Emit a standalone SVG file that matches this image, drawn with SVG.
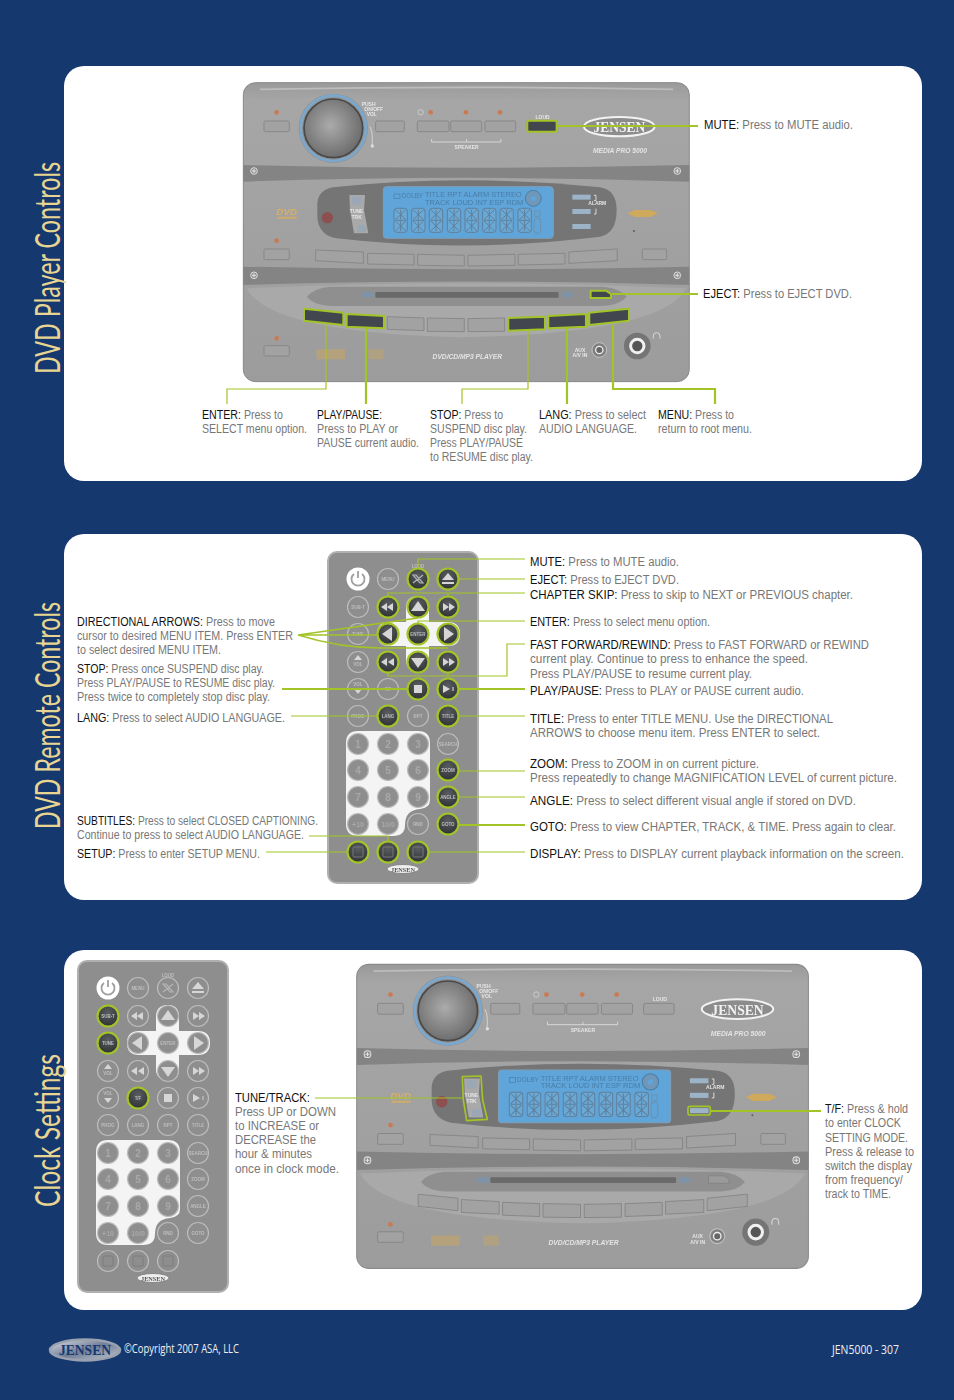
<svg xmlns="http://www.w3.org/2000/svg" xmlns:xlink="http://www.w3.org/1999/xlink" width="954" height="1400" viewBox="0 0 954 1400">
<style>
.t{font-family:"Liberation Sans",Arial,sans-serif;font-size:12px;fill:#777}
.k{fill:#111}
.title{font-family:Lato,"Open Sans",sans-serif;font-size:35px;fill:#e8d592}
.foot{font-family:"Open Sans","Liberation Sans",sans-serif;font-size:13px;fill:#f0f0f0}
.pn{fill:#fff}
.c1{fill:none;stroke:#a3c427;stroke-width:1.2}
.c2{fill:none;stroke:#a3c427;stroke-width:2.2}
.hb{fill:url(#hbtn);stroke:#a3c427;stroke-width:2.2}
.hs{fill:#43474f;stroke:#a3c427;stroke-width:6;stroke-linejoin:round}
.rb{fill:#8e8e8e;stroke:#bcbcbc;stroke-width:1.2}
.ri{fill:#d6d6d6}
.rt{font-family:"Liberation Sans",sans-serif;font-size:4.500px;fill:#bdbdbd;text-anchor:middle;font-weight:bold}
.rn{font-family:"Liberation Sans",sans-serif;font-size:10px;fill:#a8a8a8;text-anchor:middle;font-weight:bold}
.sb{fill:#a2a2a2;stroke:#838383;stroke-width:2.500}
.led{fill:#c97a52}
.st{font-family:"Liberation Sans",sans-serif;font-weight:bold;font-size:15px;fill:#e6e6e6}
.sti{font-family:"Liberation Sans",sans-serif;font-weight:bold;font-style:italic;font-size:20px;fill:#e4e4e4;text-anchor:middle}
.lcd{font-family:"Liberation Sans",sans-serif;font-size:19px;fill:#4a7da6}
.scr{fill:#8f8f8f;stroke:#ddd;stroke-width:3}
</style>
<defs>
<filter id="soft" x="-2%" y="-2%" width="104%" height="104%"><feGaussianBlur stdDeviation="1.3"/></filter>
<filter id="soft2" x="-2%" y="-2%" width="104%" height="104%"><feGaussianBlur stdDeviation="0.4"/></filter>
<radialGradient id="hbtn" cx="0.5" cy="0.35" r="0.7"><stop offset="0" stop-color="#5a5d61"/><stop offset="1" stop-color="#2c2e30"/></radialGradient>
<radialGradient id="knob" cx="0.45" cy="0.45" r="0.62"><stop offset="0" stop-color="#ababab"/><stop offset="1" stop-color="#666"/></radialGradient>
<linearGradient id="top" x1="0" y1="0" x2="0" y2="1"><stop offset="0" stop-color="#9a9a9a"/><stop offset="0.06" stop-color="#a6a6a6"/><stop offset="1" stop-color="#9c9c9c"/></linearGradient>
<linearGradient id="logo" x1="0" y1="0" x2="1" y2="1"><stop offset="0" stop-color="#dfe3ea"/><stop offset="0.5" stop-color="#6f7d96"/><stop offset="1" stop-color="#c8ccd4"/></linearGradient>
<g id="seg">
<rect x="0" y="0" width="40" height="72" rx="8" fill="#6aa9d6" stroke="#5f7f9b" stroke-width="3"/>
<path d="M4 4L36 34M36 4L4 34M20 4V34M4 38L36 68M36 38L4 68M20 38V68M4 36H36" stroke="#5f7f9b" stroke-width="3" fill="none"/>
</g>
<g id="screw"><circle r="10" class="scr"/><path d="M-6 0H6M0-6V6" stroke="#e4e4e4" stroke-width="3"/></g>
<g id="stereo" filter="url(#soft)">
<rect x="40" y="38" width="1338" height="897" rx="36" fill="url(#top)" stroke="#8a8a8a" stroke-width="3"/>
<path d="M90 58Q700 46 1330 58" stroke="#bcbcbc" stroke-width="5" fill="none"/>
<path d="M40 285Q700 302 1378 285V335Q700 312 40 335Z" fill="#848484"/>
<path d="M40 590Q700 606 1378 590V645Q700 624 40 645Z" fill="#848484"/>
<path d="M50 655Q700 625 1368 655Q1300 790 700 802Q120 790 50 655Z" fill="#a9a9a9"/>
<circle cx="140" cy="127" r="7" class="led"/><rect x="102" y="153" width="76" height="32" rx="4" class="sb"/>
<circle cx="310" cy="175" r="104" fill="#929292"/>
<circle cx="310" cy="175" r="98" fill="none" stroke="#7aa8ce" stroke-width="8"/>
<circle cx="310" cy="175" r="88" fill="url(#knob)" stroke="#484848" stroke-width="5"/>
<text class="st" x="395" y="108">PUSH</text><text class="st" x="403" y="123">ON/OFF</text><text class="st" x="410" y="138">VOL</text>
<rect x="437" y="153" width="86" height="32" rx="4" class="sb"/>
<circle cx="572" cy="127" r="8" fill="none" stroke="#ddd" stroke-width="2"/>
<circle cx="602" cy="127" r="7" class="led"/><circle cx="708" cy="127" r="7" class="led"/><circle cx="810" cy="127" r="7" class="led"/>
<rect x="562" y="153" width="95" height="32" rx="4" class="sb"/><rect x="662" y="153" width="93" height="32" rx="4" class="sb"/><rect x="765" y="153" width="92" height="32" rx="4" class="sb"/>
<path d="M605 207V216H813V207M710 207V216" stroke="#e0e0e0" stroke-width="2.500" fill="none"/>
<text class="st" x="710" y="238" text-anchor="middle">SPEAKER</text>
<text class="st" x="938" y="147" text-anchor="middle">LOUD</text>
<rect x="890" y="153" width="90" height="32" rx="4" class="sb"/>
<path d="M420 170Q430 190 426 225" stroke="#ddd" stroke-width="2.500" fill="none"/><circle cx="427" cy="228" r="5" fill="#ddd"/>
<ellipse cx="1168" cy="170" rx="106" ry="29" fill="#8c8c8c" stroke="#f2f2f2" stroke-width="6"/>
<text x="1168" y="187" text-anchor="middle" font-family="Liberation Serif,serif" font-weight="bold" font-size="46" fill="#f2f2f2" textLength="155" lengthAdjust="spacingAndGlyphs">JENSEN</text>
<text class="sti" x="1170" y="248">MEDIA PRO 5000</text>
<path d="M262 400Q265 360 310 352Q700 310 1110 352Q1160 360 1160 420Q1160 490 1110 500Q700 550 320 505Q265 495 262 440Z" fill="#747474"/>
<rect x="460" y="350" width="510" height="155" rx="10" fill="#5ea5da" stroke="#7f9fb8" stroke-width="3"/>
<text class="lcd" x="585" y="382" textLength="290" lengthAdjust="spacingAndGlyphs">TITLE RPT ALARM STEREO</text><text class="lcd" x="585" y="404" textLength="295" lengthAdjust="spacingAndGlyphs">TRACK LOUD INT ESP RDM</text>
<rect x="492" y="372" width="18" height="14" fill="none" stroke="#4a7da6" stroke-width="2"/><text class="lcd" x="515" y="384" font-size="12">DOLBY</text>
<circle cx="910" cy="385" r="24" fill="#6f97b8" stroke="#4a7da6" stroke-width="3"/><circle cx="910" cy="385" r="8" fill="#5ea5da"/>
<use xlink:href="#seg" x="492" y="415"/><use xlink:href="#seg" x="545" y="415"/><use xlink:href="#seg" x="598" y="415"/><use xlink:href="#seg" x="652" y="415"/><use xlink:href="#seg" x="705" y="415"/><use xlink:href="#seg" x="758" y="415"/><use xlink:href="#seg" x="810" y="415"/><use xlink:href="#seg" x="864" y="415"/>
<rect x="914" y="423" width="16" height="16" fill="none" stroke="#6f8fa8" stroke-width="2.500"/><rect x="912" y="445" width="20" height="45" rx="8" fill="none" stroke="#6f8fa8" stroke-width="3"/>
<path d="M358 375H405L402 420L415 490H372L360 420Z" fill="#a9a9a9"/><rect x="366" y="380" width="28" height="24" fill="#9aa7b4"/><rect x="382" y="466" width="26" height="20" fill="#9aa7b4"/>
<text class="st" x="380" y="430" text-anchor="middle">TUNE</text><text class="st" x="380" y="447" text-anchor="middle">TRK</text>
<circle cx="292" cy="443" r="17" fill="#8d4f4f"/>
<rect x="1027" y="374" width="55" height="15" fill="#9db3c8"/><rect x="1027" y="417" width="55" height="15" fill="#9db3c8"/><rect x="1027" y="462" width="55" height="15" fill="#9db3c8"/>
<path d="M1092 376h6v16h-6M1092 432h6v-16" stroke="#eee" stroke-width="2.500" fill="none"/><text class="st" x="1102" y="406" text-anchor="middle" font-size="12">ALARM</text>
<text x="170" y="436" text-anchor="middle" font-family="Liberation Sans,sans-serif" font-weight="bold" font-style="italic" font-size="28" fill="#d9b064" textLength="62" lengthAdjust="spacingAndGlyphs">DVD</text><rect x="143" y="440" width="57" height="7" fill="#c9aa72"/>
<path d="M1192 430L1215 420H1262L1284 430L1262 441H1215Z" fill="#cfa95c"/><circle cx="1212" cy="483" r="3" fill="#5c5c5c"/>
<circle cx="140" cy="512" r="7" class="led"/><rect x="102" y="537" width="76" height="32" rx="4" class="sb"/><rect x="1237" y="537" width="73" height="32" rx="4" class="sb"/>
<path d="M257 540L400 546V580L257 572ZM413 550L552 553V585L413 582ZM563 553L703 556V588L563 586ZM714 556L855 553V586L714 588ZM865 553L1005 550V582L865 585ZM1017 546L1162 537V572L1017 580Z" class="sb"/>
<use xlink:href="#screw" x="72" y="303"/><use xlink:href="#screw" x="1342" y="303"/><use xlink:href="#screw" x="72" y="616"/><use xlink:href="#screw" x="1342" y="616"/>
<path d="M230 680Q250 655 300 650H1120Q1170 655 1190 680Q1170 705 1120 708H300Q250 705 230 680Z" fill="#8f8f8f"/>
<rect x="436" y="666" width="550" height="17" rx="3" fill="#6a6a6a"/><ellipse cx="414" cy="674" rx="20" ry="9" fill="#7e93a8"/><ellipse cx="1012" cy="674" rx="18" ry="9" fill="#7e93a8"/>
<path d="M1082 662H1128L1143 672V684H1082Z" fill="#9a9a9a" stroke="#7d7d7d" stroke-width="2"/>
<path d="M222 716L340 728V765L222 752ZM350 732L462 738V775L350 770ZM472 740L582 744V782L472 778ZM592 744L703 746V785L592 784ZM714 746L824 744V784L714 785ZM835 744L945 740V778L835 782ZM955 738L1068 732V770L955 775ZM1078 728L1197 716V752L1078 765Z" class="sb"/>
<circle cx="140" cy="805" r="7" class="led"/><rect x="102" y="827" width="76" height="31" rx="4" class="sb"/>
<rect x="260" y="838" width="85" height="30" fill="#c4a568" opacity=".6"/><rect x="415" y="838" width="46" height="30" fill="#c4a568" opacity=".5"/>
<text class="sti" x="712" y="866">DVD/CD/MP3 PLAYER</text>
<text class="st" x="1050" y="845" text-anchor="middle">AUX</text><text class="st" x="1050" y="862" text-anchor="middle">A/V IN</text>
<circle cx="1108" cy="840" r="22" fill="#808080" stroke="#c4c4c4" stroke-width="3"/><circle cx="1108" cy="840" r="11" fill="#666" stroke="#eee" stroke-width="4"/>
<circle cx="1222" cy="828" r="40" fill="#747474"/><circle cx="1222" cy="828" r="20" fill="#555" stroke="#f0f0f0" stroke-width="9"/>
<path d="M1270 806V798A10 10 0 0 1 1290 798V806" stroke="#d8d8d8" stroke-width="3" fill="none"/>
</g>
<g id="remote-body" filter="url(#soft2)">
<rect x="328" y="552" width="150" height="331" rx="9" fill="#8e8e8e" stroke="#b0b0b0" stroke-width="2"/>
<path d="M377 634Q377 622 389 622H406V608Q406 596 418 596Q429 596 429 608V622H448Q460 622 460 634Q460 646 448 646H429V660Q429 671 418 671Q406 671 406 660V646H389Q377 646 377 634Z" fill="#f4f4f4"/>
<path d="M358 731H418Q430 731 430 743V800Q430 808 420 809Q405 810 405 825Q405 836 393 836H358Q346 836 346 824V743Q346 731 358 731Z" fill="#f4f4f4"/>
<circle cx="358" cy="579" r="11.500" fill="#fff"/>
<g class="rb">
<circle cx="388" cy="579" r="10.500"/><circle cx="418" cy="579" r="10.500"/><circle cx="448" cy="579" r="10.500"/>
<circle cx="358" cy="607" r="10.500"/><circle cx="388" cy="607" r="10.500"/><circle cx="418" cy="607" r="10.500"/><circle cx="448" cy="607" r="10.500"/>
<circle cx="358" cy="634" r="10.500"/><circle cx="388" cy="634" r="10.500"/><circle cx="418" cy="634" r="10.500"/><circle cx="448" cy="634" r="10.500"/>
<circle cx="358" cy="662" r="10.500"/><circle cx="388" cy="662" r="10.500"/><circle cx="418" cy="662" r="10.500"/><circle cx="448" cy="662" r="10.500"/>
<circle cx="358" cy="689" r="10.500"/><circle cx="388" cy="689" r="10.500"/><circle cx="418" cy="689" r="10.500"/><circle cx="448" cy="689" r="10.500"/>
<circle cx="358" cy="716" r="10.500"/><circle cx="388" cy="716" r="10.500"/><circle cx="418" cy="716" r="10.500"/><circle cx="448" cy="716" r="10.500"/>
<circle cx="358" cy="744" r="10.500"/><circle cx="388" cy="744" r="10.500"/><circle cx="418" cy="744" r="10.500"/><circle cx="448" cy="744" r="10.500"/>
<circle cx="358" cy="770" r="10.500"/><circle cx="388" cy="770" r="10.500"/><circle cx="418" cy="770" r="10.500"/><circle cx="448" cy="770" r="10.500"/>
<circle cx="358" cy="797" r="10.500"/><circle cx="388" cy="797" r="10.500"/><circle cx="418" cy="797" r="10.500"/><circle cx="448" cy="797" r="10.500"/>
<circle cx="358" cy="824" r="10.500"/><circle cx="388" cy="824" r="10.500"/><circle cx="418" cy="824" r="10.500"/><circle cx="448" cy="824" r="10.500"/>
<circle cx="358" cy="852" r="10.500"/><circle cx="388" cy="852" r="10.500"/><circle cx="418" cy="852" r="10.500"/>
</g>
<ellipse cx="403" cy="869" rx="16" ry="4.500" fill="#eee" stroke="#777" stroke-width=".8"/>
</g>
<g id="remote-top" filter="url(#soft2)">
<path d="M354 574A6.500 6.500 0 1 0 362 574M358 571V578" fill="none" stroke="#a0a0a0" stroke-width="1.800"/>
<text class="rt" x="388" y="581">MENU</text><text class="rt" x="418" y="567.500">LOUD</text>
<path d="M413 575H416L423 583H420ZM423 575L413 583" stroke="#b4b4b4" stroke-width="1.200" fill="none"/>
<path d="M448 573L454 580H442Z" class="ri"/><rect x="442" y="582" width="12" height="2" class="ri"/>
<text class="rt" x="358" y="609">SUB-T</text>
<path d="M393 603V611L387 607ZM387 603V611L381 607Z" class="ri"/>
<path d="M418 601L425 611H411Z" class="ri"/>
<path d="M443 603V611L449 607ZM449 603V611L455 607Z" class="ri"/>
<text class="rt" x="358" y="636">TUNE</text>
<path d="M382 634L392 627V641Z" class="ri"/><text class="rt" x="418" y="636">ENTER</text><path d="M454 634L444 627V641Z" class="ri"/>
<path d="M358 655L362 660H354Z" class="ri"/><text class="rt" x="358" y="666">VOL</text>
<path d="M387 658V666L381 662ZM394 658V666L388 662Z" class="ri"/><path d="M418 668L411 658H425Z" class="ri"/><path d="M443 658V666L449 662ZM449 658V666L455 662Z" class="ri"/>
<text class="rt" x="358" y="686">VOL</text><path d="M354 689H362L358 694Z" class="ri"/>
<text class="rt" x="388" y="691">T/F</text><rect x="414" y="685" width="8" height="8" class="ri"/>
<path d="M443 685V693L450 689Z" class="ri"/><text class="rt" x="453" y="691">II</text>
<text class="rt" x="358" y="718">PROG</text><text class="rt" x="388" y="718">LANG</text><text class="rt" x="418" y="718">RPT</text><text class="rt" x="448" y="718">TITLE</text>
<text class="rn" x="358" y="748">1</text><text class="rn" x="388" y="748">2</text><text class="rn" x="418" y="748">3</text><text class="rt" x="448" y="746">SEARCH</text>
<text class="rn" x="358" y="774">4</text><text class="rn" x="388" y="774">5</text><text class="rn" x="418" y="774">6</text><text class="rt" x="448" y="772">ZOOM</text>
<text class="rn" x="358" y="801">7</text><text class="rn" x="388" y="801">8</text><text class="rn" x="418" y="801">9</text><text class="rt" x="448" y="799">ANGLE</text>
<text class="rn" x="358" y="827" style="font-size:7px">+10</text><text class="rn" x="388" y="827" style="font-size:7px">10/0</text><text class="rt" x="418" y="826">RND</text><text class="rt" x="448" y="826">GOTO</text>
<rect x="353" y="847" width="10" height="10" rx="1" fill="none" stroke="#7a7a7a" stroke-width=".9"/><rect x="383" y="847" width="10" height="10" rx="1" fill="none" stroke="#7a7a7a" stroke-width=".9"/><rect x="413" y="847" width="10" height="10" rx="1" fill="none" stroke="#7a7a7a" stroke-width=".9"/>
<text x="403" y="871.500" text-anchor="middle" font-family="Liberation Serif,serif" font-weight="bold" font-size="7" fill="#555" textLength="24" lengthAdjust="spacingAndGlyphs">JENSEN</text>
</g>
</defs>

<rect width="954" height="1400" fill="#15386f"/>

<g id="panel-dvd-player">
<rect x="64" y="66" width="858" height="415" rx="20" class="pn"/>
<text class="title" transform="translate(60,374) rotate(-90)" textLength="212" lengthAdjust="spacingAndGlyphs">DVD Player Controls</text>
<use xlink:href="#stereo" transform="translate(230,70) scale(.3333)"/>
<g id="stereo-highlights" transform="translate(230,70) scale(.3333)" filter="url(#soft2)">
<rect x="892" y="152" width="88" height="33" rx="5" class="hs"/>
<path d="M1082 662H1128L1143 672V684H1082Z" class="hs"/>
<path d="M222 716L340 728V765L222 752ZM350 732L462 738V775L350 770ZM835 744L945 740V778L835 782ZM955 738L1068 732V770L955 775ZM1078 728L1197 716V752L1078 765Z" class="hs"/>
</g>
</g>

<g id="panel-dvd-remote">
<rect x="64" y="534" width="858" height="366" rx="20" class="pn"/>
<text class="title" transform="translate(60,829) rotate(-90)" textLength="227" lengthAdjust="spacingAndGlyphs">DVD Remote Controls</text>
<use xlink:href="#remote-body"/>
<g id="remote-highlights" class="hb">
<circle cx="418" cy="579" r="10.500"/><circle cx="448" cy="579" r="10.500"/>
<circle cx="388" cy="607" r="10.500"/><circle cx="418" cy="607" r="10.500"/><circle cx="448" cy="607" r="10.500"/>
<circle cx="388" cy="634" r="10.500"/><circle cx="418" cy="634" r="10.500"/><circle cx="448" cy="634" r="10.500"/>
<circle cx="388" cy="662" r="10.500"/><circle cx="418" cy="662" r="10.500"/><circle cx="448" cy="662" r="10.500"/>
<circle cx="418" cy="689" r="10.500"/><circle cx="448" cy="689" r="10.500"/>
<circle cx="388" cy="716" r="10.500"/><circle cx="448" cy="716" r="10.500"/>
<circle cx="448" cy="770" r="10.500"/><circle cx="448" cy="797" r="10.500"/><circle cx="448" cy="824" r="10.500"/>
<circle cx="358" cy="852" r="10.500"/><circle cx="388" cy="852" r="10.500"/><circle cx="418" cy="852" r="10.500"/>
</g>
<use xlink:href="#remote-top"/>
</g>

<g id="panel-clock">
<rect x="64" y="950" width="858" height="360" rx="20" class="pn"/>
<text class="title" transform="translate(60,1207) rotate(-90)" textLength="153" lengthAdjust="spacingAndGlyphs">Clock Settings</text>
<g transform="translate(-250,409)">
<use xlink:href="#remote-body"/>
<g class="hb"><circle cx="358" cy="607" r="10.500"/><circle cx="358" cy="634" r="10.500"/><circle cx="388" cy="689" r="10.500"/></g>
<use xlink:href="#remote-top"/>
</g>
<use xlink:href="#stereo" transform="translate(343.200,951.500) scale(.3376,.3389)"/>
<g id="clock-highlights" transform="translate(350,960) scale(.3333)" fill="none" stroke="#a3c427" stroke-width="5" stroke-linejoin="round">
<path d="M337 350L393 348L398 420L412 478L350 482L340 420Z"/>
<rect x="1014" y="439" width="67" height="26" rx="6"/>
</g>
</g>

<g id="connectors">
<path class="c2" d="M557 126H698M612 294H698"/>
<path class="c1" d="M326 325V389H227V404M528 331V389H462V404"/>
<path class="c2" d="M366 328V404M567 328V404M613 325V389H715V404"/>
<path class="c1" d="M418 568V559H525M459 579H525M388 596V593H448V596M448 593H525M418 624V621H525M388 672V676H507V644H525M448 672V676M459 716H525M459 771H525M459 797H525M429 852H525"/>
<path class="c2" d="M459 689H525M459 825H525M282 689H407"/>
<path class="c1" d="M291 716H377M309 836H388V841M266 852H347"/>
<path class="c2" style="stroke-width:1.400" d="M298 635L418 618M298 635H377M298 635Q340 648 380 648H448"/>
<path class="c1" d="M315 1098H463"/>
<path class="c2" d="M711 1111H821"/>
</g>

<g id="labels-dvd-player">
<text class="t" x="704" y="129" textLength="149" lengthAdjust="spacingAndGlyphs"><tspan class="k">MUTE:</tspan> Press to MUTE audio.</text>
<text class="t" x="703" y="298" textLength="149" lengthAdjust="spacingAndGlyphs"><tspan class="k">EJECT:</tspan> Press to EJECT DVD.</text>
<g id="label-enter"><text class="t" x="202" y="419" textLength="81" lengthAdjust="spacingAndGlyphs"><tspan class="k">ENTER:</tspan> Press to</text>
<text class="t" x="202" y="433" textLength="105" lengthAdjust="spacingAndGlyphs">SELECT menu option.</text></g>
<g id="label-playpause"><text class="t k" x="317" y="419" textLength="65" lengthAdjust="spacingAndGlyphs">PLAY/PAUSE:</text>
<text class="t" x="317" y="433" textLength="81" lengthAdjust="spacingAndGlyphs">Press to PLAY or</text>
<text class="t" x="317" y="447" textLength="102" lengthAdjust="spacingAndGlyphs">PAUSE current audio.</text></g>
<g id="label-stop"><text class="t" x="430" y="419" textLength="73" lengthAdjust="spacingAndGlyphs"><tspan class="k">STOP:</tspan> Press to</text>
<text class="t" x="430" y="433" textLength="97" lengthAdjust="spacingAndGlyphs">SUSPEND disc play.</text>
<text class="t" x="430" y="447" textLength="93" lengthAdjust="spacingAndGlyphs">Press PLAY/PAUSE</text>
<text class="t" x="430" y="461" textLength="103" lengthAdjust="spacingAndGlyphs">to RESUME disc play.</text></g>
<g id="label-lang"><text class="t" x="539" y="419" textLength="107" lengthAdjust="spacingAndGlyphs"><tspan class="k">LANG:</tspan> Press to select</text>
<text class="t" x="539" y="433" textLength="98" lengthAdjust="spacingAndGlyphs">AUDIO LANGUAGE.</text></g>
<g id="label-menu"><text class="t" x="658" y="419" textLength="76" lengthAdjust="spacingAndGlyphs"><tspan class="k">MENU:</tspan> Press to</text>
<text class="t" x="658" y="433" textLength="94" lengthAdjust="spacingAndGlyphs">return to root menu.</text></g>
</g>

<g id="labels-remote-left">
<text class="t" x="77" y="626" textLength="198" lengthAdjust="spacingAndGlyphs"><tspan class="k">DIRECTIONAL ARROWS:</tspan> Press to move</text>
<text class="t" x="77" y="640" textLength="216" lengthAdjust="spacingAndGlyphs">cursor to desired MENU ITEM. Press ENTER</text>
<text class="t" x="77" y="654" textLength="144" lengthAdjust="spacingAndGlyphs">to select desired MENU ITEM.</text>
<text class="t" x="77" y="673" textLength="187" lengthAdjust="spacingAndGlyphs"><tspan class="k">STOP:</tspan> Press once SUSPEND disc play.</text>
<text class="t" x="77" y="687" textLength="198" lengthAdjust="spacingAndGlyphs">Press PLAY/PAUSE to RESUME disc play.</text>
<text class="t" x="77" y="701" textLength="193" lengthAdjust="spacingAndGlyphs">Press twice to completely stop disc play.</text>
<text class="t" x="77" y="722" textLength="208" lengthAdjust="spacingAndGlyphs"><tspan class="k">LANG:</tspan> Press to select AUDIO LANGUAGE.</text>
<text class="t" x="77" y="825" textLength="241" lengthAdjust="spacingAndGlyphs"><tspan class="k">SUBTITLES:</tspan> Press to select CLOSED CAPTIONING.</text>
<text class="t" x="77" y="839" textLength="227" lengthAdjust="spacingAndGlyphs">Continue to press to select AUDIO LANGUAGE.</text>
<text class="t" x="77" y="858" textLength="183" lengthAdjust="spacingAndGlyphs"><tspan class="k">SETUP:</tspan> Press to enter SETUP MENU.</text>
</g>

<g id="labels-remote-right">
<text class="t" x="530" y="566" textLength="149" lengthAdjust="spacingAndGlyphs"><tspan class="k">MUTE:</tspan> Press to MUTE audio.</text>
<text class="t" x="530" y="584" textLength="149" lengthAdjust="spacingAndGlyphs"><tspan class="k">EJECT:</tspan> Press to EJECT DVD.</text>
<text class="t" x="530" y="599" textLength="323" lengthAdjust="spacingAndGlyphs"><tspan class="k">CHAPTER SKIP:</tspan> Press to skip to NEXT or PREVIOUS chapter.</text>
<text class="t" x="530" y="626" textLength="180" lengthAdjust="spacingAndGlyphs"><tspan class="k">ENTER:</tspan> Press to select menu option.</text>
<text class="t" x="530" y="649" textLength="339" lengthAdjust="spacingAndGlyphs"><tspan class="k">FAST FORWARD/REWIND:</tspan> Press to FAST FORWARD or REWIND</text>
<text class="t" x="530" y="663" textLength="278" lengthAdjust="spacingAndGlyphs">current play. Continue to press to enhance the speed.</text>
<text class="t" x="530" y="678" textLength="222" lengthAdjust="spacingAndGlyphs">Press PLAY/PAUSE to resume current play.</text>
<text class="t" x="530" y="695" textLength="274" lengthAdjust="spacingAndGlyphs"><tspan class="k">PLAY/PAUSE:</tspan> Press to PLAY or PAUSE current audio.</text>
<text class="t" x="530" y="723" textLength="303" lengthAdjust="spacingAndGlyphs"><tspan class="k">TITLE:</tspan> Press to enter TITLE MENU. Use the DIRECTIONAL</text>
<text class="t" x="530" y="737" textLength="290" lengthAdjust="spacingAndGlyphs">ARROWS to choose menu item. Press ENTER to select.</text>
<text class="t" x="530" y="768" textLength="229" lengthAdjust="spacingAndGlyphs"><tspan class="k">ZOOM:</tspan> Press to ZOOM in on current picture.</text>
<text class="t" x="530" y="782" textLength="367" lengthAdjust="spacingAndGlyphs">Press repeatedly to change MAGNIFICATION LEVEL of current picture.</text>
<text class="t" x="530" y="805" textLength="326" lengthAdjust="spacingAndGlyphs"><tspan class="k">ANGLE:</tspan> Press to select different visual angle if stored on DVD.</text>
<text class="t" x="530" y="831" textLength="366" lengthAdjust="spacingAndGlyphs"><tspan class="k">GOTO:</tspan> Press to view CHAPTER, TRACK, &amp; TIME. Press again to clear.</text>
<text class="t" x="530" y="858" textLength="374" lengthAdjust="spacingAndGlyphs"><tspan class="k">DISPLAY:</tspan> Press to DISPLAY current playback information on the screen.</text>
</g>

<g id="labels-clock">
<text class="t k" x="235" y="1102" textLength="75" lengthAdjust="spacingAndGlyphs">TUNE/TRACK:</text>
<text class="t" x="235" y="1116" textLength="101" lengthAdjust="spacingAndGlyphs">Press UP or DOWN</text>
<text class="t" x="235" y="1130" textLength="84" lengthAdjust="spacingAndGlyphs">to INCREASE or</text>
<text class="t" x="235" y="1144" textLength="81" lengthAdjust="spacingAndGlyphs">DECREASE the</text>
<text class="t" x="235" y="1158" textLength="77" lengthAdjust="spacingAndGlyphs">hour &amp; minutes</text>
<text class="t" x="235" y="1173" textLength="104" lengthAdjust="spacingAndGlyphs">once in clock mode.</text>
<text class="t" x="825" y="1113" textLength="83" lengthAdjust="spacingAndGlyphs"><tspan class="k">T/F:</tspan> Press &amp; hold</text>
<text class="t" x="825" y="1127" textLength="76" lengthAdjust="spacingAndGlyphs">to enter CLOCK</text>
<text class="t" x="825" y="1142" textLength="83" lengthAdjust="spacingAndGlyphs">SETTING MODE.</text>
<text class="t" x="825" y="1156" textLength="89" lengthAdjust="spacingAndGlyphs">Press &amp; release to</text>
<text class="t" x="825" y="1170" textLength="87" lengthAdjust="spacingAndGlyphs">switch the display</text>
<text class="t" x="825" y="1184" textLength="78" lengthAdjust="spacingAndGlyphs">from frequency/</text>
<text class="t" x="825" y="1198" textLength="66" lengthAdjust="spacingAndGlyphs">track to TIME.</text>
</g>

<g id="footer">
<ellipse cx="85" cy="1350" rx="35" ry="10.500" fill="url(#logo)" stroke="#9aa2b0" stroke-width="2.500"/>
<text x="85" y="1355" text-anchor="middle" font-family="Liberation Serif,serif" font-weight="bold" font-size="14" fill="#15386f" textLength="52" lengthAdjust="spacingAndGlyphs">JENSEN</text>
<text class="foot" x="124" y="1353" textLength="115" lengthAdjust="spacingAndGlyphs">©Copyright 2007 ASA, LLC</text>
<text class="foot" x="832" y="1354" textLength="67" lengthAdjust="spacingAndGlyphs">JEN5000 - 307</text>
</g>
</svg>
